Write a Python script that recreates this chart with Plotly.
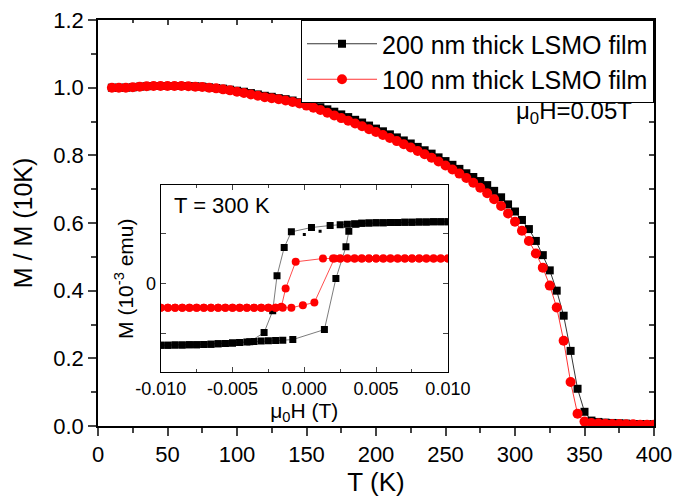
import plotly.graph_objects as go

# ---------------- main panel data ----------------
T = [10, 15, 20, 25, 30, 35, 40, 45, 50, 55, 60, 65, 70, 75, 80, 85, 90, 95, 100,
     105, 110, 115, 120, 125, 130, 135, 140, 145, 150, 155, 160, 165, 170, 175, 180,
     185, 190, 195, 200, 205, 210, 215, 220, 225, 230, 235, 240, 245, 250, 255, 260,
     265, 270, 275, 280, 285, 290, 295, 300, 305, 310, 315, 320, 325, 330, 335, 340,
     345, 350, 355, 360, 365, 370, 375, 380, 385, 390, 395, 400]

M_200nm = [1.000, 1.000, 1.000, 1.001, 1.003, 1.004, 1.005, 1.005, 1.005, 1.005, 1.005,
           1.005, 1.004, 1.003, 1.001, 0.999, 0.997, 0.994, 0.991, 0.988, 0.984, 0.980,
           0.976, 0.973, 0.969, 0.966, 0.962, 0.957, 0.952, 0.948, 0.942, 0.936, 0.929,
           0.921, 0.913, 0.905, 0.897, 0.888, 0.879, 0.871, 0.862, 0.853, 0.844, 0.835,
           0.825, 0.815, 0.805, 0.794, 0.783, 0.772, 0.760, 0.747, 0.736, 0.724, 0.712,
           0.695, 0.676, 0.655, 0.634, 0.609, 0.582, 0.547, 0.505, 0.460, 0.400, 0.326,
           0.222, 0.110, 0.042, 0.016, 0.012, 0.010, 0.009, 0.008, 0.007, 0.006, 0.006,
           0.005, 0.005]

M_100nm = [1.000, 1.000, 1.000, 1.001, 1.003, 1.004, 1.005, 1.005, 1.005, 1.005, 1.005,
           1.004, 1.003, 1.002, 1.000, 0.998, 0.995, 0.992, 0.988, 0.984, 0.980, 0.976,
           0.972, 0.969, 0.966, 0.962, 0.958, 0.953, 0.947, 0.941, 0.934, 0.926, 0.918,
           0.910, 0.902, 0.894, 0.886, 0.877, 0.869, 0.860, 0.851, 0.842, 0.833, 0.823,
           0.813, 0.803, 0.793, 0.782, 0.770, 0.758, 0.746, 0.733, 0.719, 0.704, 0.688,
           0.670, 0.650, 0.628, 0.604, 0.577, 0.547, 0.510, 0.468, 0.415, 0.350, 0.252,
           0.130, 0.036, 0.013, 0.009, 0.008, 0.007, 0.006, 0.006, 0.005, 0.005, 0.004,
           0.004, 0.004]

T_ticks = [0, 50, 100, 150, 200, 250, 300, 350, 400]
M_ticks = [0.0, 0.2, 0.4, 0.6, 0.8, 1.0, 1.2]

# ---------------- inset data (hysteresis at 300 K) ----------------
bk_desc_x = [0.0100, 0.0095, 0.0090, 0.0085, 0.0080, 0.0075, 0.0070, 0.0065, 0.0060,
             0.0055, 0.0050, 0.0045, 0.0040, 0.0035, 0.0030, 0.0025, 0.0018, 0.0005,
             -0.0009, -0.0014, -0.0019, -0.0022, -0.0028, -0.0038, -0.0045, -0.0050,
             -0.0055, -0.0060, -0.0065, -0.0070, -0.0075, -0.0080, -0.0085, -0.0090,
             -0.0095, -0.0100]
bk_desc_y = [1.230, 1.228, 1.226, 1.224, 1.222, 1.220, 1.218, 1.215, 1.212, 1.209, 1.206,
             1.202, 1.197, 1.190, 1.180, 1.170, 1.153, 1.113, 1.027, 0.713, 0.147, -0.553,
             -0.987, -1.170, -1.185, -1.195, -1.205, -1.212, -1.218, -1.224, -1.228,
             -1.231, -1.234, -1.236, -1.238, -1.240]
bk_asc_x = [-0.0100, -0.0095, -0.0090, -0.0085, -0.0080, -0.0075, -0.0070, -0.0065,
            -0.0060, -0.0055, -0.0050, -0.0045, -0.0040, -0.0035, -0.0030, -0.0025,
            -0.0020, -0.0015, -0.0008, 0.0014, 0.0022, 0.0029, 0.0031, 0.0036, 0.0040,
            0.0045, 0.0050, 0.0055, 0.0060, 0.0065, 0.0070, 0.0075, 0.0080, 0.0085,
            0.0090, 0.0095, 0.0100]
bk_asc_y = [-1.240, -1.238, -1.236, -1.234, -1.231, -1.228, -1.224, -1.218, -1.212,
            -1.205, -1.195, -1.185, -1.175, -1.165, -1.158, -1.152, -1.146, -1.140,
            -1.127, -0.927, 0.093, 0.727, 1.040, 1.180, 1.197, 1.202, 1.206, 1.209,
            1.212, 1.215, 1.218, 1.220, 1.222, 1.224, 1.226, 1.228, 1.230]
bk_dot_x = [0.0000, 0.0011]
bk_dot_y = [0.973, 1.040]

rd_desc_x = [0.0100, 0.0095, 0.0090, 0.0085, 0.0080, 0.0075, 0.0070, 0.0065, 0.0060,
             0.0055, 0.0050, 0.0045, 0.0040, 0.0035, 0.0030, 0.0025, 0.0020, 0.0013,
             -0.0006, -0.0013, -0.0016, -0.0020, -0.0025, -0.0030, -0.0035, -0.0040,
             -0.0045, -0.0050, -0.0055, -0.0060, -0.0065, -0.0070, -0.0075, -0.0080,
             -0.0085, -0.0090, -0.0095, -0.0100]
rd_desc_y = [0.493, 0.493, 0.493, 0.493, 0.493, 0.493, 0.493, 0.493, 0.493, 0.493, 0.493,
             0.493, 0.493, 0.493, 0.493, 0.493, 0.493, 0.493, 0.427, -0.107, -0.473,
             -0.493, -0.493, -0.493, -0.493, -0.493, -0.493, -0.493, -0.493, -0.493,
             -0.493, -0.493, -0.493, -0.493, -0.493, -0.493, -0.493, -0.493]
rd_asc_x = [-0.0100, -0.0095, -0.0090, -0.0085, -0.0080, -0.0075, -0.0070, -0.0065,
            -0.0060, -0.0055, -0.0050, -0.0045, -0.0040, -0.0035, -0.0030, -0.0025,
            -0.0020, -0.0015, -0.0009, -0.0001, 0.0007, 0.0021, 0.0025, 0.0030, 0.0035,
            0.0040, 0.0045, 0.0050, 0.0055, 0.0060, 0.0065, 0.0070, 0.0075, 0.0080,
            0.0085, 0.0090, 0.0095, 0.0100]
rd_asc_y = [-0.493, -0.493, -0.493, -0.493, -0.493, -0.493, -0.493, -0.493, -0.493,
            -0.493, -0.493, -0.493, -0.493, -0.493, -0.493, -0.493, -0.493, -0.493,
            -0.490, -0.440, -0.387, 0.493, 0.493, 0.493, 0.493, 0.493, 0.493, 0.493,
            0.493, 0.493, 0.493, 0.493, 0.493, 0.493, 0.493, 0.493, 0.493, 0.493]

H_ticks = [-0.010, -0.005, 0.000, 0.005, 0.010]
H_ticktext = ["-0.010", "-0.005", "0.000", "0.005", "0.010"]
Mi_ticks = [0]
Mi_ticktext = ["0"]

FONT = "Liberation Sans, Arial, sans-serif"
RED = "#ff0000"

fig = go.Figure()

# main curves
fig.add_trace(go.Scatter(
    x=T, y=M_200nm, mode="lines+markers", name="200 nm thick LSMO film",
    line=dict(color="black", width=0.8),
    marker=dict(symbol="square", size=8, color="black"),
    xaxis="x", yaxis="y"))
fig.add_trace(go.Scatter(
    x=T, y=M_100nm, mode="lines+markers", name="100 nm thick LSMO film",
    line=dict(color=RED, width=0.8),
    marker=dict(symbol="circle", size=10, color=RED),
    xaxis="x", yaxis="y"))

# mirrored frame axes (inward ticks on top/right)
fig.add_trace(go.Scatter(x=[None], y=[None], xaxis="x3", yaxis="y3",
                         showlegend=False, hoverinfo="skip"))

# inset curves
fig.add_trace(go.Scatter(
    x=bk_desc_x + bk_asc_x, y=bk_desc_y + bk_asc_y, mode="lines+markers",
    line=dict(color="#444444", width=0.7),
    marker=dict(symbol="square", size=7, color="black"),
    xaxis="x2", yaxis="y2", showlegend=False))
fig.add_trace(go.Scatter(
    x=bk_dot_x, y=bk_dot_y, mode="markers",
    marker=dict(symbol="square", size=3, color="black"),
    xaxis="x2", yaxis="y2", showlegend=False))
fig.add_trace(go.Scatter(
    x=rd_desc_x + rd_asc_x, y=rd_desc_y + rd_asc_y, mode="lines+markers",
    line=dict(color=RED, width=0.7),
    marker=dict(symbol="circle", size=8, color=RED),
    xaxis="x2", yaxis="y2", showlegend=False))

common = dict(showgrid=False, zeroline=False, showline=True, linecolor="black",
              automargin=False)

fig.update_layout(
    width=675, height=499,
    margin=dict(l=98, r=21, t=20, b=73, autoexpand=False),
    plot_bgcolor="white", paper_bgcolor="white",
    font=dict(family=FONT, color="black"),
    xaxis=dict(**common, domain=[0, 1], range=[0, 400], anchor="y",
               tickvals=T_ticks, ticks="outside", ticklen=8, tickwidth=1.5,
               linewidth=1.5, tickfont=dict(size=22), ticklabeloverflow="allow",
               minor=dict(ticks="outside", ticklen=5, tickwidth=1.5, dtick=25, tick0=0),
               title=dict(text="T (K)", font=dict(size=26), standoff=6)),
    yaxis=dict(**common, domain=[0, 1], range=[0, 1.2], anchor="x",
               tickvals=M_ticks, tickformat=".1f", ticks="outside", ticklen=8,
               tickwidth=1.5, linewidth=1.5, tickfont=dict(size=22),
               ticklabeloverflow="allow",
               minor=dict(ticks="outside", ticklen=5, tickwidth=1.5, dtick=0.1, tick0=0),
               title=dict(text="M / M (10K)", font=dict(size=25), standoff=14)),
    xaxis3=dict(**common, overlaying="x", side="top", anchor="y3", range=[0, 400],
                tickvals=T_ticks, ticks="inside", ticklen=5, tickwidth=1.5,
                linewidth=1.5, showticklabels=False,
                minor=dict(ticks="inside", ticklen=3, tickwidth=1.5, dtick=25, tick0=0)),
    yaxis3=dict(**common, overlaying="y", side="right", anchor="x3", range=[0, 1.2],
                tickvals=M_ticks, ticks="inside", ticklen=5, tickwidth=1.5,
                linewidth=1.5, showticklabels=False,
                minor=dict(ticks="inside", ticklen=5, tickwidth=1.5, dtick=0.1, tick0=0)),
    xaxis2=dict(**common, domain=[0.1128, 0.6293], anchor="y2", range=[-0.010, 0.010],
                tickvals=H_ticks, ticktext=H_ticktext, ticks="inside", ticklen=5,
                tickwidth=1, linewidth=1, mirror="allticks", tickfont=dict(size=18),
                minor=dict(ticks="inside", ticklen=3, tickwidth=1, dtick=0.0025,
                           tick0=0),
                title=dict(text="μ<sub>0</sub>H (T)", font=dict(size=21), standoff=2)),
    yaxis2=dict(**common, domain=[0.1324, 0.5933], anchor="x2", range=[-1.78, 1.96],
                tickvals=Mi_ticks, ticktext=Mi_ticktext, ticks="inside", ticklen=5,
                tickwidth=1, linewidth=1, mirror="allticks", tickfont=dict(size=18),
                minor=dict(ticks="inside", ticklen=5, tickwidth=1, dtick=1, tick0=0),
                title=dict(text="M (10<sup>-3</sup> emu)", font=dict(size=21),
                           standoff=6)),
    legend=dict(x=1, xanchor="right", y=1, yanchor="top", bgcolor="white",
                bordercolor="black", borderwidth=1, font=dict(size=25),
                itemwidth=70, tracegroupgap=0),
    annotations=[
        dict(text="μ<sub>0</sub>H=0.05T", xref="paper", yref="paper", x=0.856,
             y=0.773, xanchor="center", yanchor="middle", showarrow=False,
             font=dict(size=24)),
        dict(text="T = 300 K", xref="paper", yref="paper", x=0.1326, y=0.544,
             xanchor="left", yanchor="middle", showarrow=False, font=dict(size=22)),
    ],
)

# remove the default page margin so the figure sits at the window's top-left corner
fig.write_html("out.html",
               config={"displayModeBar": False},
               post_script="document.body.style.margin='0';"
                           "document.body.style.overflow='hidden';")
